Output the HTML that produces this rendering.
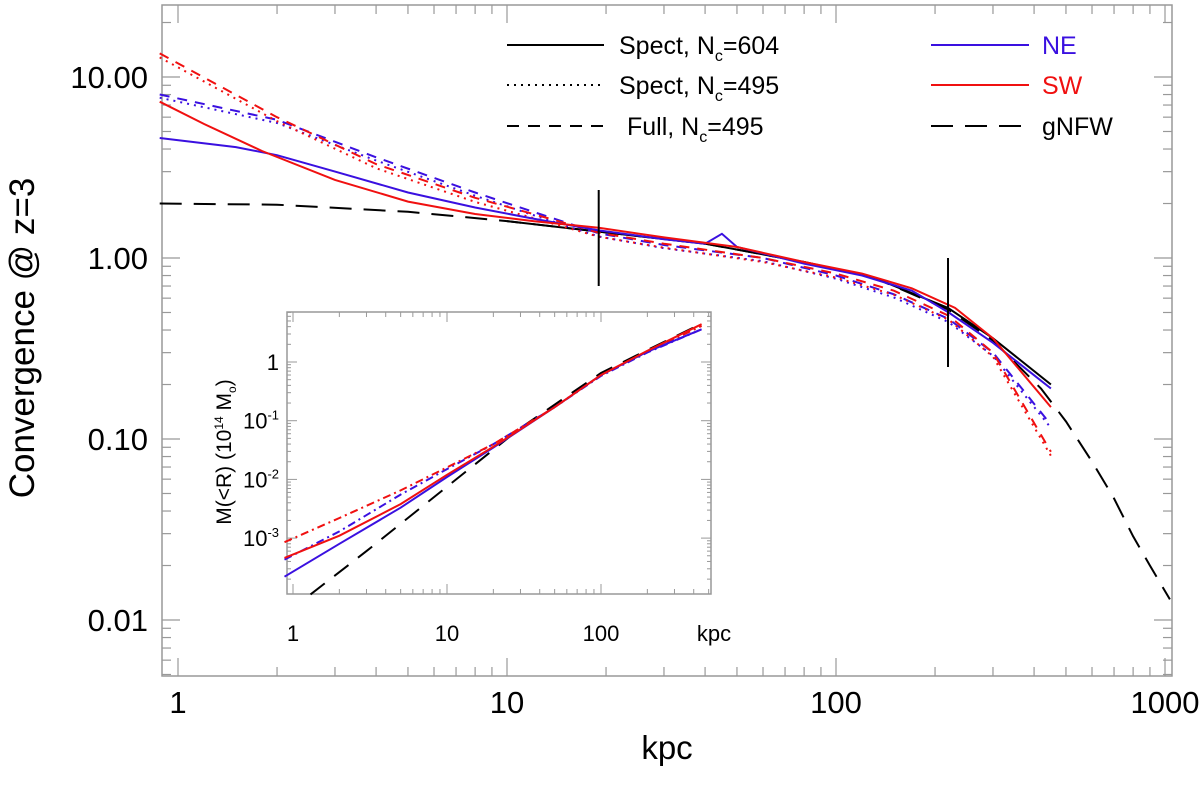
<!DOCTYPE html>
<html><head><meta charset="utf-8">
<style>
html,body{margin:0;padding:0;background:#fff;}
svg text{font-family:"Liberation Sans",Arial,sans-serif;}
</style></head>
<body>
<svg id="chart" width="1200" height="798" viewBox="0 0 1200 798" xmlns="http://www.w3.org/2000/svg">
<g id="main"></g>
<g id="inset"></g>
<g id="legend"></g>
</svg>
<script>
// ---- main plot data (r in kpc, convergence) ----
const gnfwR = [0.88,2,5,10,19,40,80,130,219,300,420,500,600,700,800,900,1035];
const gnfwK = [2.0,1.97,1.8,1.6,1.4,1.2,0.95,0.78,0.52,0.35,0.19,0.125,0.075,0.047,0.029,0.02,0.013];
const blackR = [10,19,40,80,130,219,300,450];
const blackK = [1.6,1.4,1.2,0.95,0.78,0.53,0.36,0.2];
const neSolidR = [0.88,1.5,2,3,5,8,12,19,30,40,45,50,80,120,170,220,300,450];
const neSolidK = [4.6,4.1,3.7,3.0,2.3,1.9,1.65,1.42,1.27,1.2,1.36,1.15,0.93,0.8,0.66,0.5,0.34,0.19];
const swSolidR = [0.88,1.2,1.8,3,5,8,12,19,30,50,80,120,170,230,300,450];
const swSolidK = [7.3,5.5,3.9,2.7,2.05,1.75,1.6,1.47,1.3,1.15,0.95,0.82,0.68,0.53,0.36,0.15];
const neDashR = [0.88,2,4,8,12,19,30,60,100,150,220,300,450];
const neDashK = [8.0,5.8,3.6,2.3,1.8,1.37,1.18,1.0,0.8,0.63,0.46,0.3,0.12];
const swDashR = [0.88,2,4,8,12,19,30,60,100,150,220,300,450];
const swDashK = [13.5,6.0,3.3,2.15,1.75,1.38,1.2,1.0,0.82,0.66,0.48,0.3,0.085];
const yTickVals = [10,1,0.1,0.01];
const yTickLabels = ["10.00","1.00","0.10","0.01"];
const xTickVals = [1,10,100,1000];
const xTickLabels = ["1","10","100","1000"];
const markR = [19,219];
// ---- inset data (r in kpc, mass in 1e14 Msun) ----
const inGnfwR = [1.3,3,10,30,100,200,450];
const inGnfwM = [1.1e-4,6e-4,0.0075,0.075,0.65,1.6,4.5];
const inNeSolidR = [0.88,2,5,10,20,50,100,200,450];
const inNeSolidM = [2.2e-4,8e-4,3.3e-3,0.011,0.035,0.17,0.6,1.5,3.6];
const inSwSolidR = [0.88,2,5,10,20,50,100,200,450];
const inSwSolidM = [4.6e-4,1.1e-3,3.8e-3,0.012,0.036,0.17,0.6,1.55,4.4];
const inNeDashR = [0.88,2,5,10,20,50,100,200,450];
const inNeDashM = [4.3e-4,1.3e-3,5.5e-3,0.015,0.04,0.17,0.58,1.45,3.6];
const inSwDashR = [0.88,2,5,10,20,50,100,200,450];
const inSwDashM = [8.5e-4,2.2e-3,6.5e-3,0.016,0.04,0.17,0.6,1.5,4.1];

const NS="http://www.w3.org/2000/svg";
function el(tag,attrs,parent){const e=document.createElementNS(NS,tag);for(const k in attrs)e.setAttribute(k,attrs[k]);parent.appendChild(e);return e;}
const X0=162,X1=1172,Y0=5,Y1=676;
const xS=r=>178+329*Math.log10(r);
const yS=k=>258-181*Math.log10(k);
const main=document.getElementById('main');
const frame=el('rect',{x:X0,y:Y0,width:X1-X0,height:Y1-Y0,fill:'none',stroke:'#999','stroke-width':1.5},main);


for(let d=0;d<=3;d++){for(let m=1;m<10;m++){const v=m*Math.pow(10,d);const x=xS(v);if(x<X0||x>X1)continue;const L=m==1?18:9;
 const t1=el('line',{x1:x,x2:x,y1:Y1,y2:Y1-L,stroke:'#999','stroke-width':1.2},main);
 const t2=el('line',{x1:x,x2:x,y1:Y0,y2:Y0+L,stroke:'#999','stroke-width':1.2},main);}}
for(let d=-3;d<=1;d++){for(let m=1;m<10;m++){const v=m*Math.pow(10,d);const y=yS(v);if(y<Y0||y>Y1)continue;const L=m==1?18:9;
 const t1=el('line',{x1:X0,x2:X0+L,y1:y,y2:y,stroke:'#999','stroke-width':1.2},main);
 const t2=el('line',{x1:X1,x2:X1-L,y1:y,y2:y,stroke:'#999','stroke-width':1.2},main);}}
yTickVals.forEach((v,i)=>{const t=el('text',{x:148,y:yS(v)+11,'font-size':31,'text-anchor':'end',fill:'#000'},main);t.textContent=yTickLabels[i];});
xTickVals.forEach((v,i)=>{const t=el('text',{x:xS(v),y:713,'font-size':31,'text-anchor':'middle',fill:'#000'},main);t.textContent=xTickLabels[i];});
const xt=el('text',{x:667,y:759,'font-size':33,'text-anchor':'middle'},main);xt.textContent='kpc';

const yt=el('text',{x:0,y:0,'font-size':35,'text-anchor':'middle',transform:'translate(34,338) rotate(-90)'},main);yt.textContent='Convergence @ z=3';

function path(R,V,xf,yf,attrs,parent,name){const d=R.map((r,i)=>(i?'L':'M')+xf(r).toFixed(1)+','+yf(V[i]).toFixed(1)).join(' ');const p=el('path',Object.assign({d:d,fill:'none'},attrs),parent);return p;}
const BL='#3a10e0',RD='#f01010';
path(gnfwR,gnfwK,xS,yS,{stroke:'#000','stroke-width':2,'stroke-dasharray':'22,12'},main,'gnfw-line');
path(blackR,blackK,xS,yS,{stroke:'#000','stroke-width':2},main,'black-solid-line');
path(neDashR,neDashK,xS,yS,{stroke:BL,'stroke-width':2,'stroke-dasharray':'10,8'},main,'ne-full-495');
path(neDashR,neDashK.map(k=>k*0.96),xS,yS,{stroke:BL,'stroke-width':2,'stroke-dasharray':'2,5'},main,'ne-spect-495');
path(swDashR,swDashK,xS,yS,{stroke:RD,'stroke-width':2,'stroke-dasharray':'10,8'},main,'sw-full-495');
path(swDashR,swDashK.map(k=>k*0.95),xS,yS,{stroke:RD,'stroke-width':2,'stroke-dasharray':'2,5'},main,'sw-spect-495');
path(neSolidR,neSolidK,xS,yS,{stroke:BL,'stroke-width':2},main,'ne-spect-604');
path(swSolidR,swSolidK,xS,yS,{stroke:RD,'stroke-width':2},main,'sw-spect-604');
const mk1=el('line',{x1:xS(markR[0]),x2:xS(markR[0]),y1:190,y2:286,stroke:'#000','stroke-width':2},main);

const mk2=el('line',{x1:xS(markR[1]),x2:xS(markR[1]),y1:258,y2:367,stroke:'#000','stroke-width':2},main);


const lg=document.getElementById('legend');
const rows=[[45,'Spect, N','c','=604','none'],[85,'Spect, N','c','=495','2,5'],[126,'Full, N','c','=495','12,9']];
rows.forEach((r,i)=>{const l=el('line',{x1:507,x2:604,y1:r[0],y2:r[0],stroke:'#000','stroke-width':2,'stroke-dasharray':r[4]},lg);
 const t=el('text',{x:i==2?627:619,y:r[0]+9,'font-size':25},lg);
 t.innerHTML=r[1]+'<tspan dy="7" font-size="16">'+r[2]+'</tspan><tspan dy="-7">'+r[3]+'</tspan>';});
const rr=[[45,BL,'NE','none'],[85,RD,'SW','none'],[126,'#000','gNFW','22,12']];
rr.forEach(r=>{const l=el('line',{x1:931,x2:1029,y1:r[0],y2:r[0],stroke:r[1],'stroke-width':2,'stroke-dasharray':r[3]},lg);
 const t=el('text',{x:1042,y:r[0]+9,'font-size':25,fill:r[1]},lg);t.textContent=r[2];});

const IX0=287,IX1=711,IY0=312,IY1=594;
const xi=r=>293+154*Math.log10(r);
const yi=m=>362-58.7*Math.log10(m);
const ins=document.getElementById('inset');
const bg=el('rect',{x:IX0,y:IY0,width:IX1-IX0,height:IY1-IY0,fill:'#fff',stroke:'#999','stroke-width':1.5},ins);

for(let d=0;d<=2;d++){for(let m=1;m<10;m++){const v=m*Math.pow(10,d);const x=xi(v);if(x<IX0||x>IX1)continue;const L=m==1?10:5;
 const a=el('line',{x1:x,x2:x,y1:IY1,y2:IY1-L,stroke:'#999'},ins);
 const b=el('line',{x1:x,x2:x,y1:IY0,y2:IY0+L,stroke:'#999'},ins);}}
for(let d=-4;d<=0;d++){for(let m=1;m<10;m++){const v=m*Math.pow(10,d);const y=yi(v);if(y<IY0||y>IY1)continue;const L=m==1?10:4;
 const a=el('line',{x1:IX0,x2:IX0+L,y1:y,y2:y,stroke:'#999'},ins);
 const b=el('line',{x1:IX1,x2:IX1-L,y1:y,y2:y,stroke:'#999'},ins);}}
const inYV=[1,0.1,0.01,0.001];const inYE=['','-1','-2','-3'];
inYV.forEach((v,i)=>{const t=el('text',{x:279,y:yi(v)+8,'font-size':22,'text-anchor':'end'},ins);
 if(i==0)t.textContent='1';else t.innerHTML='10<tspan dy="-9" font-size="13">'+inYE[i]+'</tspan>';});
const inXV=[1,10,100];const inXL=['1','10','100'];
inXV.forEach((v,i)=>{const t=el('text',{x:xi(v),y:641,'font-size':22,'text-anchor':'middle'},ins);t.textContent=inXL[i];});
const ik=el('text',{x:714,y:641,'font-size':22,'text-anchor':'middle'},ins);ik.textContent='kpc';

const iyt=el('text',{x:0,y:0,'font-size':21,'text-anchor':'middle',transform:'translate(231,452) rotate(-90)'},ins);
iyt.innerHTML='M(&lt;R) (10<tspan dy="-8" font-size="12">14</tspan><tspan dy="8"> M</tspan><tspan dy="5" font-size="12">o</tspan><tspan dy="-5">)</tspan>';

path(inGnfwR,inGnfwM,xi,yi,{stroke:'#000','stroke-width':2,'stroke-dasharray':'18,12'},ins,'inset-gnfw');
path(inNeDashR,inNeDashM,xi,yi,{stroke:BL,'stroke-width':2,'stroke-dasharray':'8,4,2,4'},ins,'inset-ne-dash');
path(inSwDashR,inSwDashM,xi,yi,{stroke:RD,'stroke-width':2,'stroke-dasharray':'8,4,2,4'},ins,'inset-sw-dash');
path(inNeSolidR,inNeSolidM,xi,yi,{stroke:BL,'stroke-width':2},ins,'inset-ne-solid');
path(inSwSolidR,inSwSolidM,xi,yi,{stroke:RD,'stroke-width':2},ins,'inset-sw-solid');
</script>
</body></html>
